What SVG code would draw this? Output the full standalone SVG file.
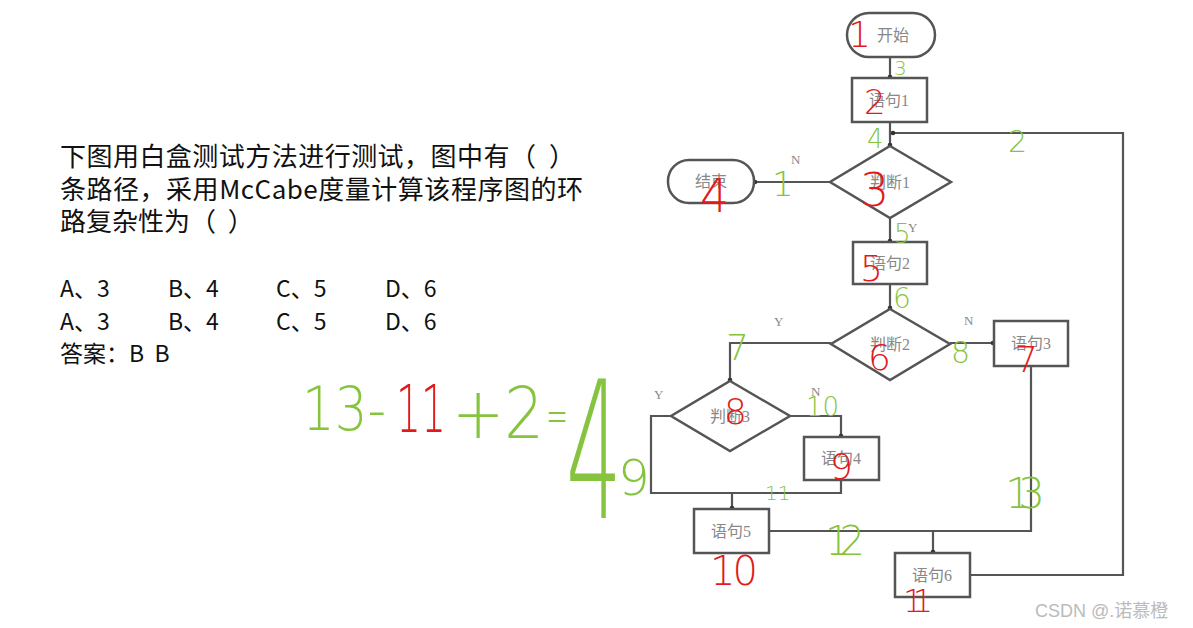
<svg xmlns="http://www.w3.org/2000/svg" width="1193" height="628" viewBox="0 0 1193 628">
<defs>
<marker id="dot" markerWidth="6" markerHeight="6" refX="3" refY="3" markerUnits="userSpaceOnUse"><circle cx="3" cy="3" r="2.3" fill="#333"/></marker>
<style>
.shape{fill:#fff;stroke:#555;stroke-width:2.5}
.lbl{font-family:"Liberation Serif","Noto Sans CJK SC",serif;font-size:16px;fill:#888;text-anchor:middle}
.yn{font-family:"Liberation Serif",serif;font-size:13px;fill:#888}
.edge{fill:none;stroke:#555;stroke-width:2.2}
.q{font-family:"Noto Sans CJK SC","Noto Sans",sans-serif;font-size:26px;fill:#111}
.o{font-family:"Noto Sans CJK SC","Noto Sans",sans-serif;font-size:23px;fill:#111}
.red{font-family:"DejaVu Sans",sans-serif;fill:#e21a1a;font-weight:200}
.grn{font-family:"DejaVu Sans",sans-serif;fill:#86c440;font-weight:200}
.hw{font-family:"DejaVu Sans",sans-serif;font-weight:200}
</style>
</defs>
<rect width="1193" height="628" fill="#fff"/>

<g id="question">
<text class="q" x="60" y="166" textLength="515" lengthAdjust="spacing">下图用白盒测试方法进行测试，图中有（&#160;&#160;）</text>
<text class="q" x="60" y="199" textLength="523" lengthAdjust="spacing">条路径，采用McCabe度量计算该程序图的环</text>
<text class="q" x="60" y="231">路复杂性为（&#160;&#160;）</text>
<text class="o" x="60" y="297">A、3</text><text class="o" x="168" y="297">B、4</text><text class="o" x="276" y="297">C、5</text><text class="o" x="385" y="297">D、6</text>
<text class="o" x="60" y="330">A、3</text><text class="o" x="168" y="330">B、4</text><text class="o" x="276" y="330">C、5</text><text class="o" x="385" y="330">D、6</text>
<text class="o" x="60" y="362">答案：B&#160;&#160;B</text>
</g>

<g id="connectors">
<line class="edge" x1="890" y1="57" x2="890" y2="77" marker-end="url(#dot)"/>
<line class="edge" x1="890" y1="122" x2="890" y2="145" marker-end="url(#dot)"/>
<polyline class="edge" points="970,575 1123,575 1123,133 893,133" marker-end="url(#dot)"/>
<line class="edge" x1="830" y1="182" x2="755" y2="182" marker-end="url(#dot)"/>
<line class="edge" x1="890" y1="218" x2="890" y2="241" marker-end="url(#dot)"/>
<line class="edge" x1="890" y1="284" x2="890" y2="308" marker-end="url(#dot)"/>
<line class="edge" x1="950" y1="343" x2="993" y2="343" marker-end="url(#dot)"/>
<polyline class="edge" points="831,343 730,343 730,380" marker-end="url(#dot)"/>
<polyline class="edge" points="790,416 841,416 841,436" marker-end="url(#dot)"/>
<polyline class="edge" points="671,416 651,416 651,493 841,493 841,480"/>
<line class="edge" x1="732" y1="493" x2="732" y2="508" marker-end="url(#dot)"/>
<polyline class="edge" points="769,531 1031,531 1031,366"/>
<line class="edge" x1="933" y1="531" x2="933" y2="552" marker-end="url(#dot)"/>
<text class="yn" x="791" y="164">N</text>
<text class="yn" x="908" y="232">Y</text>
<text class="yn" x="774" y="326">Y</text>
<text class="yn" x="964" y="325">N</text>
<text class="yn" x="654" y="399">Y</text>
<text class="yn" x="811" y="396">N</text>
</g>

<g id="start"><rect class="shape" x="847" y="13" width="88" height="44" rx="22"/><text class="lbl" x="893" y="41">开始</text></g>
<g id="s1"><rect class="shape" x="852" y="78" width="75" height="44"/><text class="lbl" x="889" y="106">语句1</text></g>
<g id="d1"><polygon class="shape" points="890,146 951,182 890,218 830,182"/><text class="lbl" x="890" y="188">判断1</text></g>
<g id="end"><rect class="shape" x="668" y="160" width="86" height="43" rx="21"/><text class="lbl" x="711" y="187">结束</text></g>
<g id="s2"><rect class="shape" x="853" y="242" width="74" height="42"/><text class="lbl" x="890" y="269">语句2</text></g>
<g id="d2"><polygon class="shape" points="890,309 950,344 890,380 831,344"/><text class="lbl" x="890" y="350">判断2</text></g>
<g id="s3"><rect class="shape" x="994" y="321" width="74" height="45"/><text class="lbl" x="1031" y="349">语句3</text></g>
<g id="d3"><polygon class="shape" points="730,381 790,416 730,451 671,416"/><text class="lbl" x="730" y="422">判断3</text></g>
<g id="s4"><rect class="shape" x="804" y="437" width="75" height="43"/><text class="lbl" x="841" y="464">语句4</text></g>
<g id="s5"><rect class="shape" x="694" y="509" width="75" height="44"/><text class="lbl" x="731" y="537">语句5</text></g>
<g id="s6"><rect class="shape" x="895" y="553" width="75" height="44"/><text class="lbl" x="932" y="581">语句6</text></g>

<g id="node-numbers">
<text class="red" x="848" y="47" font-size="36">1</text>
<text class="red" x="864" y="114" font-size="34">2</text>
<text class="red" x="860" y="206" font-size="46">3</text>
<text class="red" x="700" y="212" font-size="46">4</text>
<text class="red" x="860" y="281" font-size="36">5</text>
<text class="red" x="868" y="370" font-size="36">6</text>
<text class="red" x="1015" y="372" font-size="36">7</text>
<text class="red" x="724" y="424" font-size="36">8</text>
<text class="red" x="830" y="479" font-size="36">9</text>
<text class="red" x="710" y="585" font-size="40" textLength="48">10</text>
<text class="red" x="903" y="612" font-size="32" textLength="30">11</text>
</g>

<g id="edge-numbers">
<text class="grn" x="772" y="196" font-size="34">1</text>
<text class="grn" x="1008" y="152" font-size="30">2</text>
<text class="grn" x="894" y="75" font-size="20">3</text>
<text class="grn" x="867" y="148" font-size="26">4</text>
<text class="grn" x="894" y="243" font-size="26">5</text>
<text class="grn" x="893" y="308" font-size="28">6</text>
<text class="grn" x="726" y="360" font-size="36">7</text>
<text class="grn" x="951" y="363" font-size="30">8</text>
<text class="grn" x="618" y="495" font-size="50">9</text>
<text class="grn" x="806" y="416" font-size="26">10</text>
<text class="grn" x="765" y="500" font-size="20">11</text>
<text class="grn" x="825" y="555" font-size="40" textLength="40">12</text>
<text class="grn" x="1005" y="508" font-size="42" textLength="40">13</text>
</g>

<g id="formula">
<text class="hw" x="302" y="430" font-size="60" fill="#86c440" textLength="84" lengthAdjust="spacingAndGlyphs">13-</text>
<text class="hw" x="396" y="432" font-size="66" fill="#e21a1a" textLength="50" lengthAdjust="spacingAndGlyphs">11</text>
<text class="hw" x="452" y="438" font-size="72" fill="#86c440" textLength="92" lengthAdjust="spacingAndGlyphs">+2</text>
<text class="hw" x="546" y="432" font-size="48" fill="#86c440" textLength="22" lengthAdjust="spacingAndGlyphs">=</text>
<text class="hw" x="566" y="518" font-size="190" fill="#86c440" textLength="56" lengthAdjust="spacingAndGlyphs">4</text>
</g>

<text x="1035" y="617" font-family="Liberation Sans,Noto Sans CJK SC,sans-serif" font-size="18" fill="#bbb">CSDN @.诺慕橙</text>
</svg>
